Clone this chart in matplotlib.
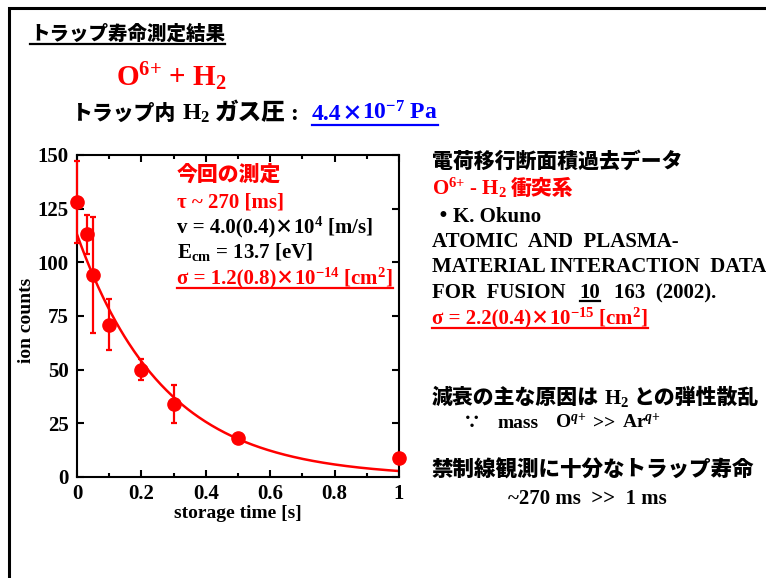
import matplotlib
matplotlib.use('Agg')
import matplotlib.pyplot as plt
from matplotlib.lines import Line2D
from matplotlib.patches import Rectangle
import numpy as np

# データ
storage_time = [0.0, 0.03, 0.05, 0.1, 0.2, 0.3, 0.5, 1.0]
ion_counts = [128, 113, 94, 71, 50, 34, 18, 9]
count_err = [19, 9, 27, 12, 5, 9, 1, 0]
fit_amp = 113      # フィット A
fit_tau = 0.27     # フィット tau [s]
xticks = [0, 0.2, 0.4, 0.6, 0.8, 1.0]
xtick_labels = ['0', '0.2', '0.4', '0.6', '0.8', '1']
yticks = [0, 25, 50, 75, 100, 125, 150]

SERIF = 'Liberation Serif'
JP = 'Noto Sans CJK JP'
RED = '#ff0000'
BLUE = '#0000ff'
K = 'black'

plt.rcParams['font.family'] = [SERIF, JP]
plt.rcParams['font.weight'] = 'bold'
plt.rcParams['mathtext.fontset'] = 'custom'
plt.rcParams['mathtext.rm'] = 'Liberation Serif:bold'
plt.rcParams['mathtext.it'] = 'Liberation Serif:italic:bold'
plt.rcParams['mathtext.bf'] = 'Liberation Serif:bold'
plt.rcParams['mathtext.default'] = 'rm'

W, H = 766, 578
fig = plt.figure(figsize=(W / 100, H / 100), dpi=100)
renderer = fig.canvas.get_renderer()


def put(x, y, parts, size=14):
    # x, y: ピクセル (左上基準, y はベースライン)
    # parts: 数値 = 間隔[px], (文字列, 色, フォント, 下線位置, [サイズ])
    x0 = x
    for p in parts:
        if isinstance(p, (int, float)):
            x += p
            continue
        s, col, fam, ul = p[:4]
        sz = p[4] if len(p) > 4 else size
        t = fig.text(x / W, 1 - y / H, s, color=col, fontsize=sz, family=fam,
                     weight='black' if fam == JP else 'bold',
                     va='baseline', ha='left')
        bb = t.get_window_extent(renderer)
        if ul:
            fig.add_artist(Line2D([x / W, (x + bb.width) / W], [1 - (y + ul) / H] * 2,
                                  color=col, lw=1.6, transform=fig.transFigure))
        x += bb.width
    return x - x0


def put_ul(x, y, parts, col, off, size=14):
    # 複数パーツをまとめて下線
    w = put(x, y, parts, size)
    fig.add_artist(Line2D([x / W, (x + w) / W], [1 - (y + off) / H] * 2,
                          color=col, lw=1.6, transform=fig.transFigure))


# 枠
fig.add_artist(Rectangle((9 / W, -0.1), 2, 1.1 - 8 / H, fill=False, lw=2.2,
                         edgecolor='black', transform=fig.transFigure))

# グラフ
ax = fig.add_axes([77 / W, 1 - 477 / H, 322 / W, 322 / H])
tt = np.linspace(0, 1, 300)
ax.plot(tt, fit_amp * np.exp(-tt / fit_tau), color=RED, lw=1.8, zorder=2)
eb = ax.errorbar(storage_time, ion_counts, yerr=count_err, fmt='o', color=RED,
                 ms=9.5, elinewidth=1.6, capsize=2.5, capthick=1.6, zorder=3)
for a in eb.get_children():
    a.set_clip_on(False)

ax.set_xlim(0, 1)
ax.set_ylim(0, 150)
ax.set_xticks(xticks)
ax.set_xticklabels(xtick_labels)
ax.set_xticks(np.arange(0.1, 1.0, 0.2), minor=True)
ax.set_yticks(yticks)
ax.tick_params(which='both', direction='in', top=True, right=True, width=1.5)
ax.tick_params(which='major', length=5, labelsize=15)
ax.tick_params(which='minor', length=3)
ax.tick_params(axis='x', pad=5)
ax.tick_params(axis='y', pad=6)
for s in ax.spines.values():
    s.set_linewidth(1.5)

ax.set_xlabel('storage time [s]', fontsize=14, fontweight='bold')
ax.xaxis.set_label_coords(0.5, (477 - 505) / 322)
ax.set_ylabel('ion counts', fontsize=14, fontweight='bold')
ax.yaxis.set_label_coords((35 - 77) / 322, (477 - 320) / 322)

# タイトル類
put(30, 40, [('トラップ寿命測定結果', K, JP, 3.5)], 14)
put(116, 86, [('O$^{6{+}}$ + H$_2$', RED, SERIF, 0)], 21)
put(72, 120, [('トラップ内', K, JP, 0, 15), 6, ('H$_2$', K, SERIF, 0), 4,
              ('ガス圧', K, JP, 0, 17), 5, (':', K, SERIF, 0)], 17)
put_ul(312, 120, [('4.4', BLUE, SERIF, 0), ('×', BLUE, JP, 0, 15),
                  ('10$^{-7}$ Pa', BLUE, SERIF, 0)], BLUE, 4.5, 17)

# グラフ内テキスト
put(177, 181, [('今回の測定', RED, JP, 0)], 15)
put(177, 207, [('τ ~ 270 [ms]', RED, SERIF, 0)], 15)
put(177, 233, [('v = 4.0(0.4)', K, SERIF, 0), ('×', K, JP, 0, 13),
               ('10$^4$ [m/s]', K, SERIF, 0)], 15)
put(177, 258, [('E$_{cm}$ = 13.7 [eV]', K, SERIF, 0)], 15)
put_ul(177, 284, [('σ = 1.2(0.8)', RED, SERIF, 0), ('×', RED, JP, 0, 13),
                  ('10$^{-14}$ [cm$^2$]', RED, SERIF, 0)], RED, 3.5, 15)

# 右側テキスト
put(432, 168, [('電荷移行断面積過去データ', K, JP, 0)], 15)
put(432, 195, [('O$^{6{+}}$ - H$_2$', RED, SERIF, 0), 4, ('衝突系', RED, JP, 0)], 15)
put(432, 222, [('・', K, JP, 0), ('K. Okuno', K, SERIF, 0)], 15)
put(432, 247, [('ATOMIC  AND  PLASMA-', K, SERIF, 0)], 15)
put(432, 272, [('MATERIAL INTERACTION  DATA', K, SERIF, 0)], 15)
put(432, 298, [('FOR  FUSION', K, SERIF, 0), 14, ('10', K, SERIF, 3),
               14, ('163  (2002).', K, SERIF, 0)], 15)
put_ul(432, 324, [('σ = 2.2(0.4)', RED, SERIF, 0), ('×', RED, JP, 0, 13),
                  ('10$^{-15}$ [cm$^2$]', RED, SERIF, 0)], RED, 3.5, 15)

put(432, 404, [('減衰の主な原因は', K, JP, 0), 5, ('H$_2$', K, SERIF, 0), 4,
               ('との弾性散乱', K, JP, 0)], 15)
put(463, 428, [('∵', K, JP, 0)], 13)
put(497, 428, [('mass', K, SERIF, 0)], 14)
put(555, 428, [(r'O$^{\mathit{q}{+}}$', K, SERIF, 0)], 14)
put(593, 428, [('>>', K, SERIF, 0)], 14)
put(622, 428, [(r'Ar$^{\mathit{q}{+}}$', K, SERIF, 0)], 14)

put(432, 477, [('禁制線観測に十分なトラップ寿命', K, JP, 0)], 15.5)
put(508, 504, [('~270 ms  >>  1 ms', K, SERIF, 0)], 15)

fig.savefig('out.png', dpi=100)
plt.close(fig)
